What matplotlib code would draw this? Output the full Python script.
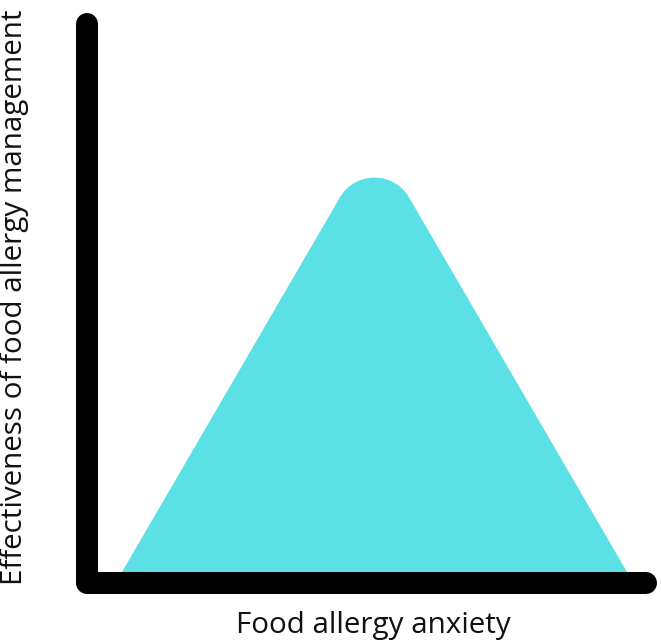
import matplotlib.pyplot as plt
from matplotlib.path import Path
from matplotlib.patches import PathPatch
from matplotlib.lines import Line2D
import numpy as np

# curve data: anxiety (x) vs management effectiveness (y)
anxiety = [0.0, 0.5, 1.0]
effectiveness = [0.0, 1.0, 0.0]

xlabel = 'Food allergy anxiety'
ylabel = 'Effectiveness of food allergy management'

fill_color = '#5be0e5'

W, H = 661, 644
fig = plt.figure(figsize=(W / 100, H / 100), dpi=100)

# axes placed in pixel terms (from left, from bottom)
ax = fig.add_axes([122 / W, 72 / H, 505 / W, 434 / H])
ax.set_xlim(0, 1)
ax.set_ylim(0, 1)
ax.axis('off')

# triangle with a rounded apex (circular fillet via cubic bezier)
left = np.array([anxiety[0], effectiveness[0]])
apex = np.array([anxiety[1], effectiveness[1]])
right = np.array([anxiety[2], effectiveness[2]])
t = 0.137   # tangent point, fraction of edge from apex
c = 0.076   # control point, fraction of edge from apex
p1 = apex + t * (left - apex)
c1 = apex + c * (left - apex)
c2 = apex + c * (right - apex)
p2 = apex + t * (right - apex)
verts = [left, p1, c1, c2, p2, right, left]
codes = [Path.MOVETO, Path.LINETO, Path.CURVE4, Path.CURVE4, Path.CURVE4,
         Path.LINETO, Path.CLOSEPOLY]
ax.add_patch(PathPatch(Path(verts, codes), facecolor=fill_color,
                       edgecolor='none', clip_on=False))

# thick L-shaped axes with rounded ends
lw = 22 * 72 / 100
fig.add_artist(Line2D([86.5 / W, 86.5 / W, 646 / W],
                      [1 - 24 / H, 1 - 583 / H, 1 - 583 / H],
                      transform=fig.transFigure, color='black', lw=lw,
                      solid_capstyle='round', solid_joinstyle='round'))

fig.text(373 / W, 1 - 625 / H, xlabel, ha='center', va='center',
         fontsize=21.3, family='Open Sans', color='#111111')
fig.text(15 / W, 1 - 297 / H, ylabel, ha='center', va='center',
         rotation=90, fontsize=21.3, family='Open Sans', color='#111111')

fig.savefig('out.png', dpi=100, facecolor='white')
